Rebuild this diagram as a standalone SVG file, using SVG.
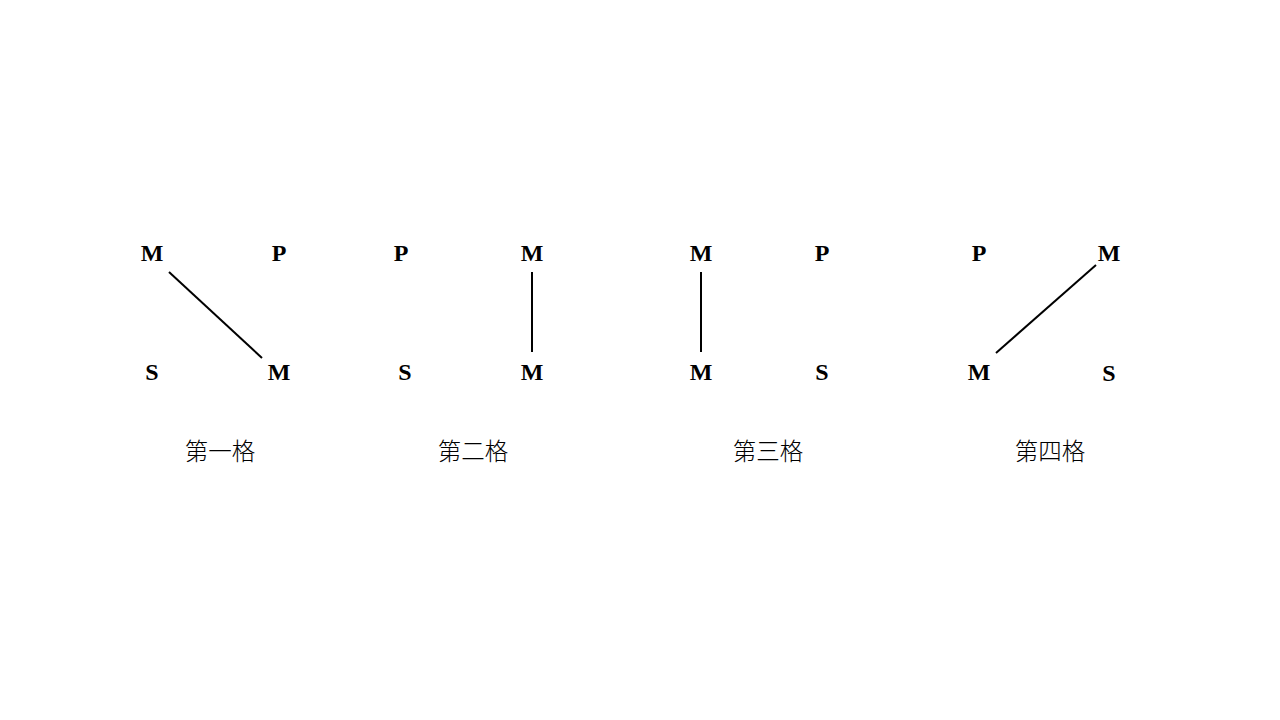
<svg xmlns="http://www.w3.org/2000/svg" width="1280" height="720" viewBox="0 0 1280 720">
<style>
.t{font-family:"Liberation Serif","Times New Roman",serif;font-weight:bold;font-size:24px;fill:#000;text-anchor:middle}
.c{font-family:"Noto Sans CJK SC","Noto Sans",sans-serif;font-size:23.5px;font-weight:300;fill:#000;text-anchor:middle}
.l{stroke:#000;stroke-width:2;fill:none}
</style>
<rect width="1280" height="720" fill="#fff"/>
<g id="connectors">
<line class="l" x1="169" y1="272" x2="262" y2="358"/>
<line class="l" x1="532" y1="272" x2="532" y2="352"/>
<line class="l" x1="701" y1="272" x2="701" y2="352"/>
<line class="l" x1="1096" y1="265" x2="996" y2="353"/>
</g>
<g id="fig1">
<text class="t" x="152" y="261">M</text>
<text class="t" x="279" y="261">P</text>
<text class="t" x="152" y="380">S</text>
<text class="t" x="279" y="380">M</text>
<text class="c" x="220" y="460">第一格</text>
</g>
<g id="fig2">
<text class="t" x="401" y="261">P</text>
<text class="t" x="532" y="261">M</text>
<text class="t" x="405" y="380">S</text>
<text class="t" x="532" y="380">M</text>
<text class="c" x="473" y="460">第二格</text>
</g>
<g id="fig3">
<text class="t" x="701" y="261">M</text>
<text class="t" x="822" y="261">P</text>
<text class="t" x="701" y="380">M</text>
<text class="t" x="822" y="380">S</text>
<text class="c" x="768" y="460">第三格</text>
</g>
<g id="fig4">
<text class="t" x="979" y="261">P</text>
<text class="t" x="1109" y="261">M</text>
<text class="t" x="979" y="380">M</text>
<text class="t" x="1109" y="381">S</text>
<text class="c" x="1050" y="460">第四格</text>
</g>
</svg>
